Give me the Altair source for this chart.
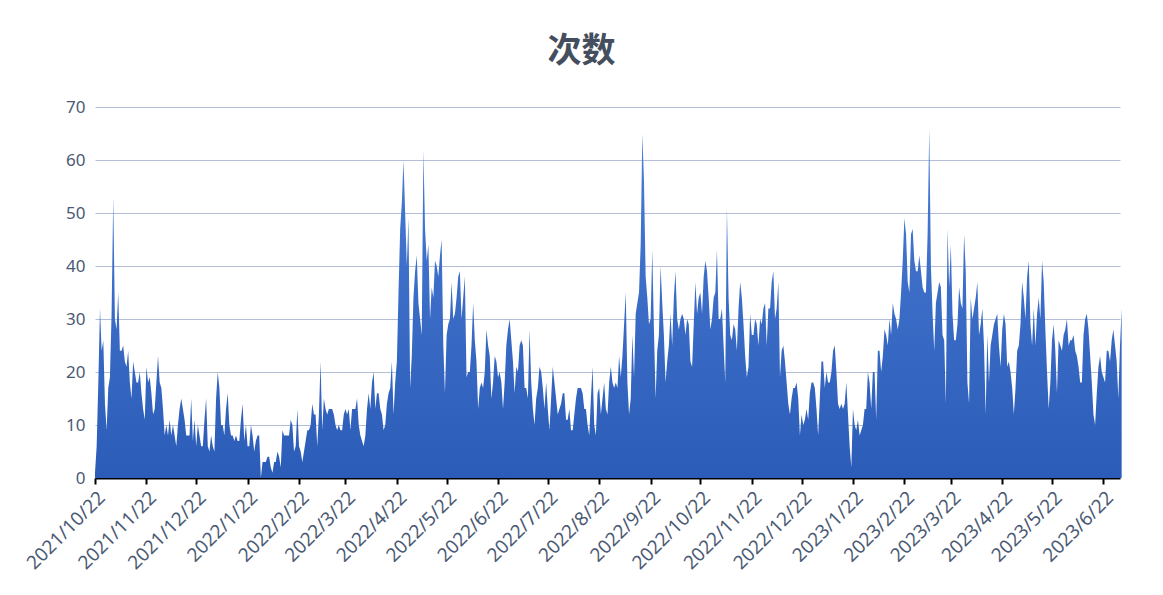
import altair as alt
import pandas as pd

title_text = "次数"
start_date = "2021-10-22"
tick_dates = ["2021-10-22", "2021-11-22", "2021-12-22", "2022-01-22", "2022-02-22",
              "2022-03-22", "2022-04-22", "2022-05-22", "2022-06-22", "2022-07-22",
              "2022-08-22", "2022-09-22", "2022-10-22", "2022-11-22", "2022-12-22",
              "2023-01-22", "2023-02-22", "2023-03-22", "2023-04-22", "2023-05-22",
              "2023-06-22"]
y_ticks = [0, 10, 20, 30, 40, 50, 60, 70]

counts = [
    1, 6, 18, 32, 24, 26, 14, 9, 17, 19,
    31, 53, 30, 28, 35, 24, 24, 25, 22, 21,
    24, 18, 15, 22, 20, 18, 18, 20, 16, 13,
    11, 21, 18, 19, 16, 12, 13, 18, 23, 18,
    17, 13, 8, 10, 8, 11, 8, 10, 8, 6,
    10, 13, 15, 13, 11, 8, 8, 8, 15, 7,
    11, 6, 10, 8, 6, 6, 11, 15, 6, 5,
    8, 6, 5, 15, 20, 17, 10, 10, 8, 13,
    16, 10, 8, 8, 7, 8, 7, 7, 11, 14,
    7, 10, 6, 6, 10, 8, 5, 7, 8, 8,
    0, 3, 3, 3, 4, 4, 2, 1, 3, 3,
    5, 4, 2, 9, 8, 8, 8, 8, 11, 10,
    5, 6, 13, 6, 5, 3, 5, 7, 9, 9,
    10, 14, 12, 12, 6, 12, 22, 9, 15, 13,
    12, 13, 13, 13, 12, 10, 9, 10, 9, 9,
    12, 13, 12, 13, 9, 13, 13, 13, 15, 10,
    8, 7, 6, 8, 13, 16, 13, 18, 20, 13,
    16, 16, 13, 12, 9, 10, 14, 16, 17, 22,
    12, 18, 22, 35, 47, 52, 60, 50, 40, 49,
    17, 23, 34, 39, 42, 33, 30, 27, 62, 47,
    41, 44, 30, 36, 34, 41, 40, 38, 42, 45,
    25, 16, 27, 29, 30, 37, 30, 31, 34, 38,
    39, 30, 34, 38, 19, 20, 20, 25, 33, 26,
    22, 13, 17, 18, 17, 20, 28, 25, 23, 15,
    18, 23, 22, 19, 20, 18, 13, 18, 25, 28,
    30, 26, 22, 16, 21, 20, 25, 26, 25, 17,
    17, 15, 28, 18, 13, 10, 15, 17, 21, 20,
    17, 13, 18, 13, 9, 15, 21, 18, 15, 12,
    13, 14, 16, 16, 11, 11, 13, 9, 9, 12,
    15, 17, 17, 17, 16, 13, 13, 10, 8, 15,
    21, 10, 8, 16, 17, 12, 15, 18, 13, 12,
    18, 21, 18, 17, 18, 17, 23, 19, 23, 29,
    35, 18, 12, 15, 27, 19, 31, 33, 35, 44,
    65, 56, 38, 34, 29, 30, 43, 28, 15, 24,
    27, 40, 33, 27, 18, 22, 25, 31, 25, 34,
    39, 30, 28, 30, 31, 30, 27, 30, 29, 22,
    21, 29, 37, 31, 34, 35, 31, 38, 41, 39,
    34, 28, 30, 34, 35, 43, 30, 30, 32, 25,
    18, 51, 34, 27, 26, 29, 28, 24, 32, 37,
    34, 29, 23, 19, 21, 31, 27, 27, 30, 29,
    25, 30, 29, 32, 33, 25, 32, 32, 37, 39,
    30, 32, 37, 19, 24, 25, 22, 18, 14, 12,
    15, 17, 17, 18, 15, 8, 12, 10, 11, 13,
    11, 16, 18, 18, 17, 13, 8, 15, 22, 22,
    17, 20, 18, 18, 20, 24, 25, 20, 14, 13,
    14, 13, 14, 18, 12, 6, 2, 13, 10, 9,
    11, 8, 9, 10, 13, 13, 20, 18, 13, 20,
    20, 11, 24, 24, 20, 23, 28, 27, 25, 30,
    27, 33, 31, 30, 28, 30, 35, 41, 49, 46,
    37, 35, 46, 47, 41, 39, 39, 42, 39, 36,
    35, 35, 46, 66, 40, 31, 24, 33, 35, 37,
    36, 27, 26, 14, 47, 36, 44, 31, 26, 26,
    29, 36, 33, 32, 46, 39, 18, 14, 34, 30,
    32, 34, 37, 27, 29, 32, 25, 12, 27, 18,
    25, 27, 29, 30, 31, 25, 21, 28, 31, 29,
    21, 22, 20, 17, 12, 17, 24, 25, 29, 37,
    34, 30, 38, 41, 29, 25, 32, 25, 31, 34,
    30, 41, 37, 28, 20, 13, 18, 26, 29, 24,
    16, 26, 25, 24, 27, 28, 30, 25, 26, 26,
    27, 24, 23, 21, 18, 18, 27, 30, 31, 28,
    23, 18, 12, 10, 16, 21, 23, 20, 19, 18,
    24, 24, 22, 26, 28, 25, 22, 15, 25, 32,
]

dates = pd.date_range(start_date, periods=len(counts), freq="D")
df = pd.DataFrame({"date": dates.strftime("%Y-%m-%dT00:00:00"), "count": counts})

tick_values = [alt.DateTime(year=int(d[:4]), month=int(d[5:7]), date=int(d[8:10])) for d in tick_dates]

title_font = "Noto Sans CJK SC"
label_font = "Noto Sans"
label_color = "#4b5a74"

chart = alt.Chart(df).mark_area(
    interpolate="linear",
    line=False,
    color=alt.Gradient(
        gradient="linear",
        stops=[alt.GradientStop(color="#4a7dd7", offset=0),
               alt.GradientStop(color="#2b5cb7", offset=1)],
        x1=0, x2=0, y1=0, y2=1,
    ),
).encode(
    x=alt.X("date:T",
            scale=alt.Scale(domain=[alt.DateTime(year=2021, month=10, date=22),
                                    alt.DateTime(year=2023, month=7, date=2)]),
            axis=alt.Axis(values=tick_values, format="%Y/%-m/%-d", title=None,
                          labelAngle=-45, labelAlign="right", labelBaseline="top",
                          labelFontSize=19, labelColor=label_color, labelFont=label_font,
                          labelPadding=4, labelOverlap=False, labelFlush=False,
                          domainColor="#000000", domainWidth=2,
                          tickColor="#000000", tickWidth=2, tickSize=6,
                          grid=False)),
    y=alt.Y("count:Q",
            scale=alt.Scale(domain=[0, 70], nice=False),
            axis=alt.Axis(values=y_ticks, title=None, labelFontSize=17,
                          labelColor=label_color, labelFont=label_font, labelPadding=10,
                          domain=False, ticks=False, grid=True,
                          gridColor="#b3bdd6", gridWidth=1)),
).properties(
    width=1025,
    height=371,
    autosize=alt.AutoSizeParams(type="none"),
    padding={"left": 87, "top": 99, "right": 30, "bottom": 100},
    title=alt.Title(title_text, fontSize=34, fontWeight="bold", color="#454e5e",
                    font=title_font, anchor="middle", frame="group", dx=-26, offset=29),
).configure(
    background="white"
).configure_view(
    stroke=None
)

chart.save("out.html", embed_options={"renderer": "svg", "actions": False})
